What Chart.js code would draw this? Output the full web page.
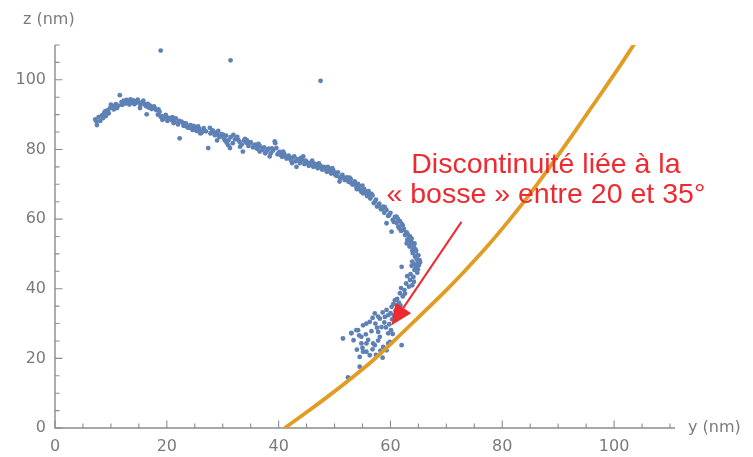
<!DOCTYPE html>
<html><head><meta charset="utf-8">
<script src="https://cdn.jsdelivr.net/npm/chart.js@4.4.0/dist/chart.umd.min.js"></script>
<style>html,body{margin:0;padding:0;background:#fff}#wrap{width:753px;height:457px;position:relative}</style>
</head><body><div id="wrap"><canvas id="c" width="753" height="457"></canvas></div>
<script>
// ---- data (y in nm on horizontal axis, z in nm on vertical axis) ----
const blueY = [
 7.2,7.5,7.8,8.1,8.4,8.8,9.1,9.4,9.8,10.2,10.5,10.9,11.3,11.6,11.9,12.3,12.6,
 13.0,13.3,13.6,14.0,14.3,14.6,15.0,15.3,15.6,16.0,16.3,16.6,16.4,17.0,17.4,17.7,18.1,18.4,18.7,19.1,
 19.4,19.8,20.1,20.5,20.9,21.2,21.6,22.0,22.3,22.6,23.0,23.4,23.8,24.2,24.6,25.0,25.4,25.8,26.2,26.6,27.0,27.4,27.8,28.2,28.6,29.0,29.4,29.8,
 30.2,30.6,31.0,31.4,31.8,32.2,32.6,33.0,33.4,33.8,34.2,34.6,35.0,35.4,35.8,36.2,36.6,37.0,37.4,37.8,38.2,38.6,39.0,39.4,39.8,40.2,40.6,41.0,41.4,41.8,
 42.2,42.6,43.0,43.4,43.8,44.2,44.6,45.0,45.4,45.8,46.2,46.6,47.0,47.4,47.8,48.2,48.6,49.0,49.4,49.8,50.2,50.6,51.0,51.4,51.8,52.2,
 52.5,52.9,53.2,53.6,53.9,54.2,54.6,55.0,55.1,55.5,55.8,56.1,56.4,56.8,57.0,57.4,57.6,58.0,58.3,58.7,58.9,59.3,59.3,59.6,60.0,60.2,
 60.4,60.8,61.1,61.1,61.4,61.7,61.9,62.3,62.2,62.6,62.9,62.9,63.2,63.5,63.4,63.7,63.9,64.0,64.2,64.4,64.6,64.9,64.7,65.0,64.3,64.6,64.8,63.9,62.0,63.5,64.1,
 63.3,62.8,62.5,61.7,62.2,60.8,61.5,60.2,60.9,59.3,59.0,58.1,60.3,57.2,59.8,
 56.3,55.1,53.9,53.0,51.5,54.8,55.7,56.9,55.1,56.3,58.1,59.6,59.6,58.7,53.0,54.8,54.5,55.7,57.2,57.3,55.7,54.2,59.3,62.0,59.9,60.1,52.4,54.5,57.8,58.4,
 7.4,8.6,9.0,9.6,10.0,10.7,11.1,12.0,12.8,13.5,14.2,14.8,15.2,15.8,16.8,17.3,17.9,18.5,18.9,19.2,
 20.0,20.6,21.0,21.4,22.2,22.9,23.5,24.0,24.4,24.8,25.3,25.6,26.0,26.4,27.7,28.0,28.4,28.9,29.2,29.6,29.0,30.1,
 30.4,30.7,31.0,31.3,31.9,32.4,32.8,33.1,33.6,34.0,34.3,34.9,35.6,36.0,36.4,36.6,37.2,37.6,38.0,38.4,38.8,39.3,39.6,40.0,40.4,40.8,41.2,41.6,42.0,
 42.4,42.8,43.2,43.6,44.0,44.4,44.8,45.2,45.6,46.0,46.4,46.8,47.2,47.6,47.9,48.4,48.8,49.2,49.6,50.0,50.4,50.9,51.2,51.6,52.0,
 52.7,53.0,53.4,53.8,54.0,54.4,54.8,55.3,55.7,56.0,56.6,57.2,57.9,58.5,59.0,59.8,60.6,61.3,61.6,62.0,
 62.4,62.8,63.0,63.1,63.6,63.8,64.1,64.3,64.5,64.8,65.2,65.1,64.9,65.3,64.4,63.8,63.6,64.2,63.9,63.0,
 62.6,61.9,61.2,61.8,60.5,60.0,60.6,59.6,58.6,57.8,56.8,58.9,59.2,60.4,57.6,56.6,55.6,54.4,53.4,56.0,57.8,58.2,56.8,55.0,54.0,57.4,58.6,
 18.9,31.4,47.5
];
const blueZ = [
 88.6,87.0,89.3,88.2,89.8,90.5,89.6,91.2,91.8,92.4,91.5,93.0,92.6,95.6,93.6,94.0,93.2,
 93.8,92.9,93.5,94.1,93.3,93.9,93.4,92.8,93.6,93.0,92.4,93.1,90.1,92.6,91.8,92.4,91.3,90.0,90.8,89.6,
 88.8,89.9,88.2,89.0,88.4,87.6,88.9,87.2,83.2,88.0,86.8,87.5,86.2,87.0,85.6,86.4,85.3,85.9,84.8,86.1,85.2,80.4,84.6,85.5,84.1,84.9,83.6,84.4,
 83.2,84.0,82.6,83.5,81.8,82.9,83.6,82.2,81.4,82.6,81.9,81.0,82.1,80.6,81.4,80.2,81.0,79.8,80.6,79.4,80.2,78.9,79.7,81.8,78.6,79.3,77.9,78.8,77.4,78.2,
 76.9,77.7,76.6,77.2,76.1,76.9,75.8,76.5,75.3,76.2,75.0,75.8,74.6,75.4,74.2,74.9,73.6,74.4,73.1,73.9,72.6,73.4,71.8,72.7,71.2,72.0,
 70.7,71.5,69.9,70.8,69.2,70.1,68.4,69.6,67.4,67.9,66.6,68.0,65.9,66.8,64.6,65.6,63.6,64.4,62.8,63.6,61.8,62.6,58.8,60.9,61.8,56.4,
 59.8,60.6,58.9,60.7,57.8,59.4,56.6,56.9,58.2,55.4,53.0,56.2,54.3,55.0,52.1,53.6,51.0,50.2,52.4,49.2,50.8,47.3,48.4,49.6,45.4,46.2,44.6,47.8,46.3,42.5,43.4,
 40.6,41.5,39.6,38.7,37.8,36.7,36.0,34.8,33.6,33.9,31.9,31.4,31.2,32.9,29.8,
 30.5,29.5,28.1,27.2,25.7,26.2,24.3,24.3,21.9,20.9,26.2,27.2,24.3,23.3,27.3,24.3,20.4,21.9,23.8,30.0,30.0,28.1,22.3,23.8,24.7,28.1,14.5,17.6,27.6,29.0,
 88.0,89.0,91.0,90.4,92.9,92.6,91.9,92.8,94.2,94.4,93.0,94.3,91.9,94.0,92.0,91.6,91.8,91.5,89.4,88.5,
 89.3,88.9,89.3,87.9,88.2,87.6,86.6,86.4,86.1,86.8,85.4,86.6,84.6,85.2,86.2,84.9,85.0,84.3,85.3,84.0,82.6,84.2,
 82.6,81.9,81.2,80.4,84.2,83.2,82.7,80.8,79.4,83.0,82.7,81.9,81.2,80.4,81.6,79.4,80.4,78.9,79.9,78.0,80.3,82.3,80.4,79.0,78.4,79.4,78.0,77.6,77.5,
 76.1,78.0,75.0,76.7,77.6,78.0,76.8,76.0,75.6,76.8,75.9,75.2,76.0,74.8,75.0,74.3,75.0,73.6,74.6,73.2,72.4,70.8,72.2,71.9,71.4,
 71.9,70.3,70.1,69.9,68.6,69.5,67.8,68.6,67.3,66.9,67.2,64.9,63.8,62.9,63.4,61.2,59.2,60.1,57.3,58.6,
 57.2,55.9,54.0,55.6,53.0,54.4,51.6,53.0,51.3,49.6,48.2,46.8,45.6,47.6,47.0,46.6,44.2,42.0,41.0,43.6,
 38.6,40.2,37.1,35.2,35.6,33.0,32.4,32.4,33.2,32.0,31.6,30.3,28.9,27.0,28.8,27.8,26.9,26.6,25.2,25.3,25.1,22.2,22.6,23.0,22.5,21.0,20.2,
 108.4,105.6,99.7
];
const orangeY = [41.1,45.0,49.0,53.0,57.0,61.0,65.0,69.0,73.0,77.0,81.0,85.0,89.0,93.0,97.0,100.5,103.7];
const orangeZ = [0,4.5,9.3,14.3,19.6,25.6,31.8,38.0,44.6,51.6,59.2,67.3,76.1,85.2,94.5,102.7,110.5];
const xTicks = [0,20,40,60,80,100];
const yTicks = [0,20,40,60,80,100];
const xTitle = 'y (nm)';
const yTitle = 'z (nm)';
const noteLines = ['Discontinuité liée à la', '« bosse » entre 20 et 35°'];

const axisColor = '#8c8c8c';
const labelColor = '#7b7b7b';
const noteColor = '#ee2a30';

const bluePts = blueY.map((v,i)=>({x:v, y:blueZ[i]}));
const orangePts = orangeY.map((v,i)=>({x:v, y:orangeZ[i]}));

const axesPlugin = {
  id:'axes',
  beforeDatasetsDraw(chart){
    const {ctx, scales:{x, y}} = chart;
    const x0 = x.getPixelForValue(0), y0 = y.getPixelForValue(0);
    const xe = x.getPixelForValue(110), ye = y.getPixelForValue(110);
    ctx.save();
    ctx.strokeStyle = axisColor; ctx.lineWidth = 1.4;
    ctx.beginPath();
    ctx.moveTo(x0, y0); ctx.lineTo(xe + 5, y0);
    ctx.moveTo(x0, y0 + 0.7); ctx.lineTo(x0, ye);
    ctx.stroke();
    ctx.lineWidth = 1.1;
    ctx.beginPath();
    for (let v = 0; v <= 110; v += 5) {
      const len = (v % 20 === 0) ? 7.5 : 4.5;
      const px = x.getPixelForValue(v);
      ctx.moveTo(px, y0); ctx.lineTo(px, y0 - len);
      const py = y.getPixelForValue(v);
      ctx.moveTo(x0, py); ctx.lineTo(x0 + len, py);
    }
    ctx.stroke();
    ctx.fillStyle = labelColor;
    ctx.font = '16px "DejaVu Sans"';
    ctx.textBaseline = 'middle';
    ctx.textAlign = 'left';
    ctx.fillText(xTitle, xe + 18, y0);
    ctx.fillText(yTitle, x0 - 32, ye - 25);
    ctx.restore();
  },
  afterDatasetsDraw(chart){
    const {ctx, scales:{x, y}} = chart;
    ctx.save();
    // arrow
    const tx = x.getPixelForValue(72.7), ty = y.getPixelForValue(59.2);
    const hx = x.getPixelForValue(60.2), hy = y.getPixelForValue(29.5);
    const ang = Math.atan2(hy - ty, hx - tx);
    const L = 21, W = 9.5;
    const bx = hx - L*Math.cos(ang), by = hy - L*Math.sin(ang);
    ctx.strokeStyle = noteColor; ctx.fillStyle = noteColor; ctx.lineWidth = 2;
    ctx.beginPath(); ctx.moveTo(tx, ty); ctx.lineTo(bx, by); ctx.stroke();
    ctx.beginPath();
    ctx.moveTo(hx, hy);
    ctx.lineTo(bx + W*Math.sin(ang), by - W*Math.cos(ang));
    ctx.lineTo(bx - W*Math.sin(ang), by + W*Math.cos(ang));
    ctx.closePath(); ctx.fill();
    // note text
    ctx.font = '28.5px "Liberation Sans", Arial, sans-serif';
    ctx.textAlign = 'center'; ctx.textBaseline = 'alphabetic';
    const cx = x.getPixelForValue(87.8);
    ctx.fillText(noteLines[0], cx, y.getPixelForValue(73.2));
    ctx.fillText(noteLines[1], cx, y.getPixelForValue(64.5));
    ctx.restore();
  }
};

new Chart(document.getElementById('c').getContext('2d'), {
  type: 'scatter',
  data: {
    datasets: [
      {label:'orange', data: orangePts, showLine:true, borderColor:'#e19c24', borderWidth:3.8,
       pointRadius:0, cubicInterpolationMode:'monotone', fill:false},
      {label:'blue', data: bluePts, backgroundColor:'#5e81b5', borderWidth:0, pointRadius:2.4, showLine:false}
    ]
  },
  options: {
    responsive:false, animation:false, devicePixelRatio:1,
    layout:{padding:{left:0, right:83, top:45, bottom:0}},
    plugins:{legend:{display:false}, tooltip:{enabled:false}},
    scales:{
      x:{type:'linear', min:0, max:110,
         grid:{display:false, drawTicks:false}, border:{display:false},
         ticks:{padding:9, color:labelColor, font:{family:'DejaVu Sans', size:16}, maxRotation:0, autoSkip:false},
         afterBuildTicks:s=>{ s.ticks = xTicks.map(v=>({value:v})); },
         afterFit:s=>{ s.height = 29; }},
      y:{type:'linear', min:0, max:110,
         grid:{display:false, drawTicks:false}, border:{display:false},
         ticks:{padding:9, color:labelColor, font:{family:'DejaVu Sans', size:16}, autoSkip:false},
         afterBuildTicks:s=>{ s.ticks = yTicks.map(v=>({value:v})); },
         afterFit:s=>{ s.width = 55; }}
    }
  },
  plugins:[axesPlugin]
});
</script></body></html>
